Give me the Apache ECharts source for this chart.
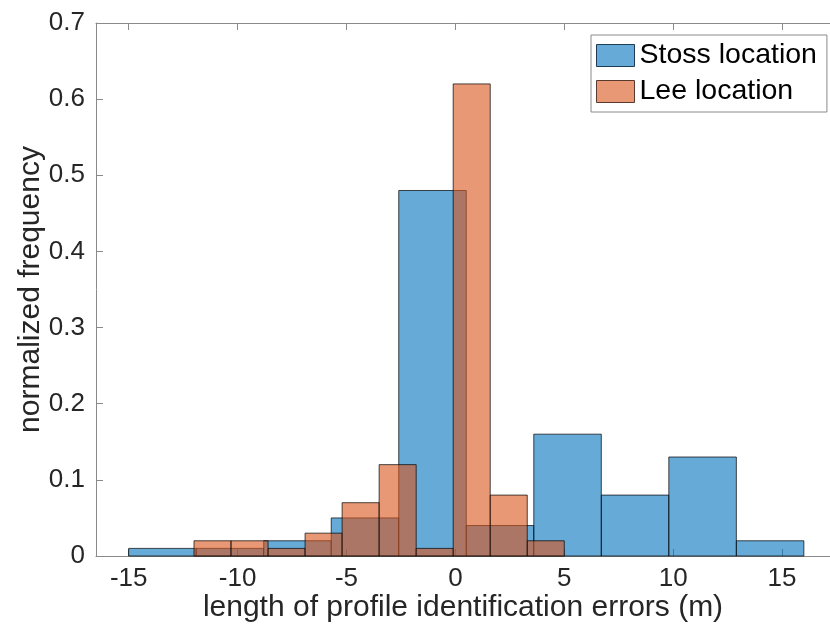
<!DOCTYPE html>
<html>
<head>
<meta charset="utf-8">
<script src="https://cdn.jsdelivr.net/npm/echarts@6/dist/echarts.min.js"></script>
<style>
html,body{margin:0;padding:0;background:#fff;overflow:hidden;}
#c{width:830px;height:625px;}
</style>
</head>
<body>
<div id="c"></div>
<script>
// Bin edges and normalized frequencies
var stossEdges = [-15, -11.9, -8.8, -5.7, -2.6, 0.5, 3.6, 6.7, 9.8, 12.9, 16.0];
var stossValues = [0.01, 0.01, 0.02, 0.05, 0.48, 0.04, 0.16, 0.08, 0.13, 0.02];
var leeEdges = [-12, -10.3, -8.6, -6.9, -5.2, -3.5, -1.8, -0.1, 1.6, 3.3, 5.0];
var leeValues = [0.02, 0.02, 0.01, 0.03, 0.07, 0.12, 0.01, 0.62, 0.08, 0.02];
var xTicks = [-15, -10, -5, 0, 5, 10, 15];
var seriesNames = ['Stoss location', 'Lee location'];

var FONT = 'Liberation Sans, Arial, Helvetica, sans-serif';
var blueFill = 'rgba(0,114,189,0.6)';
var orangeFill = 'rgba(217,83,25,0.6)';
var edge = 'rgba(0,0,0,0.7)';

function binsData(edges, vals) {
  var out = [];
  for (var i = 0; i < vals.length; i++) out.push([edges[i], edges[i + 1], vals[i]]);
  return out;
}
function makeRender(fill) {
  return function (params, api) {
    var p0 = api.coord([api.value(0), 0]);
    var p1 = api.coord([api.value(1), api.value(2)]);
    return {
      type: 'rect',
      shape: { x: p0[0], y: p1[1], width: p1[0] - p0[0], height: p0[1] - p1[1] },
      style: { fill: fill, stroke: edge, lineWidth: 1 }
    };
  };
}

var chart = echarts.init(document.getElementById('c'), null, { renderer: 'canvas' });
var axisLineStyle = { color: '#8a8a8a', width: 1 };
chart.setOption({
  animation: false,
  backgroundColor: '#fff',
  grid: { left: 96, right: 0, top: 23, bottom: 69, containLabel: false, outerBoundsMode: 'none' },
  legend: {
    left: 591, top: 35, orient: 'vertical',
    padding: [6, 10, 6, 5], itemGap: 7, itemWidth: 38, itemHeight: 22,
    borderColor: '#8a8a8a', borderWidth: 1, backgroundColor: '#fff',
    icon: 'rect',
    textStyle: { fontFamily: FONT, fontSize: 28.5, color: '#000', lineHeight: 22 },
    data: [
      { name: seriesNames[0], itemStyle: { color: '#66aad7', borderColor: '#1e3c55', borderWidth: 1 } },
      { name: seriesNames[1], itemStyle: { color: '#e89875', borderColor: '#5a3a2e', borderWidth: 1 } }
    ]
  },
  xAxis: [{
    type: 'value', min: -16.5, max: 17.2, position: 'bottom',
    name: 'length of profile identification errors (m)',
    nameLocation: 'middle', nameGap: 37, nameMoveOverlap: false,
    nameTextStyle: { fontFamily: FONT, fontSize: 30, color: '#262626' },
    axisLine: { show: true, onZero: false, lineStyle: axisLineStyle },
    axisTick: { show: true, inside: true, length: 7, lineStyle: axisLineStyle, customValues: xTicks },
    axisLabel: { fontFamily: FONT, fontSize: 26, color: '#262626', margin: 10, customValues: xTicks },
    splitLine: { show: false }
  }, {
    type: 'value', min: -16.5, max: 17.2, position: 'top',
    axisLine: { show: true, onZero: false, lineStyle: axisLineStyle },
    axisTick: { show: true, inside: true, length: 7, lineStyle: axisLineStyle, customValues: xTicks },
    axisLabel: { show: false },
    splitLine: { show: false }
  }],
  yAxis: {
    type: 'value', min: 0, max: 0.7, interval: 0.1,
    name: 'normalized frequency', nameLocation: 'middle', nameGap: 50, nameRotate: 90,
    nameMoveOverlap: false,
    nameTextStyle: { fontFamily: FONT, fontSize: 30, color: '#262626' },
    axisLine: { show: true, onZero: false, lineStyle: axisLineStyle },
    axisTick: { show: true, inside: true, length: 7, lineStyle: axisLineStyle },
    axisLabel: { fontFamily: FONT, fontSize: 26, color: '#262626', margin: 11,
      formatter: function (v) { return String(Math.round(v * 10) / 10); } },
    splitLine: { show: false }
  },
  series: [{
    name: seriesNames[0], type: 'custom', xAxisIndex: 0,
    itemStyle: { color: '#66aad7' },
    encode: { x: [0, 1], y: 2 },
    renderItem: makeRender(blueFill),
    data: binsData(stossEdges, stossValues)
  }, {
    name: seriesNames[1], type: 'custom', xAxisIndex: 0,
    itemStyle: { color: '#e89875' },
    encode: { x: [0, 1], y: 2 },
    renderItem: makeRender(orangeFill),
    data: binsData(leeEdges, leeValues)
  }]
});
</script>
</body>
</html>
